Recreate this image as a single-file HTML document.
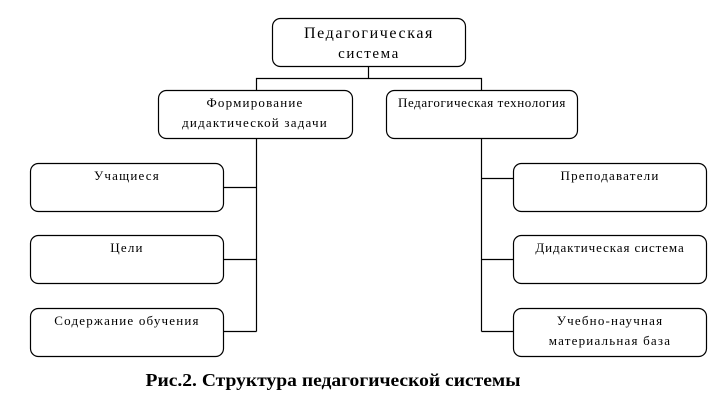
<!DOCTYPE html>
<html><head><meta charset="utf-8"><style>
body{margin:0;background:#fff;}
svg text{font-family:"Liberation Serif",serif;fill:#000;}
</style></head><body>
<svg width="721" height="410" viewBox="0 0 721 410" xmlns="http://www.w3.org/2000/svg">
<g fill="none" stroke="#000" stroke-width="1.2">
<rect x="272.5" y="18.5" width="193" height="48" rx="8"/>
<rect x="158.5" y="90.5" width="194" height="48" rx="8"/>
<rect x="386.5" y="90.5" width="191" height="48" rx="8"/>
<rect x="30.5" y="163.5" width="193" height="48" rx="8"/>
<rect x="30.5" y="235.5" width="193" height="48" rx="8"/>
<rect x="30.5" y="308.5" width="193" height="48" rx="8"/>
<rect x="513.5" y="163.5" width="193" height="48" rx="8"/>
<rect x="513.5" y="235.5" width="193" height="48" rx="8"/>
<rect x="513.5" y="308.5" width="193" height="48" rx="8"/>
<path d="M368.5 66V78.5M256.5 90V78.5H481.5V90"/>
<path d="M256.5 138V331.5M223 187.5H256.5M223 259.5H256.5M223 331.5H256.5"/>
<path d="M481.5 138V331.5M481.5 178.5H513M481.5 259.5H513M481.5 331.5H513"/>
</g>
<g font-size="13" text-anchor="middle" letter-spacing="1.2">
<text x="369" y="38" font-size="16" letter-spacing="1.6">Педагогическая</text>
<text x="369" y="58" font-size="15" letter-spacing="1.6">система</text>
<text x="255" y="107">Формирование</text>
<text x="255" y="127">дидактической задачи</text>
<text x="482" y="107" letter-spacing="0.6">Педагогическая технология</text>
<text x="127" y="180">Учащиеся</text>
<text x="127" y="252">Цели</text>
<text x="127" y="325">Содержание обучения</text>
<text x="610" y="180">Преподаватели</text>
<text x="610" y="252" letter-spacing="0.9">Дидактическая система</text>
<text x="610" y="325">Учебно-научная</text>
<text x="610" y="345">материальная база</text>
<text x="333" y="386" font-size="18" font-weight="bold" letter-spacing="0" textLength="375" lengthAdjust="spacingAndGlyphs">Рис.2. Структура педагогической системы</text>
</g>
</svg>
</body></html>
